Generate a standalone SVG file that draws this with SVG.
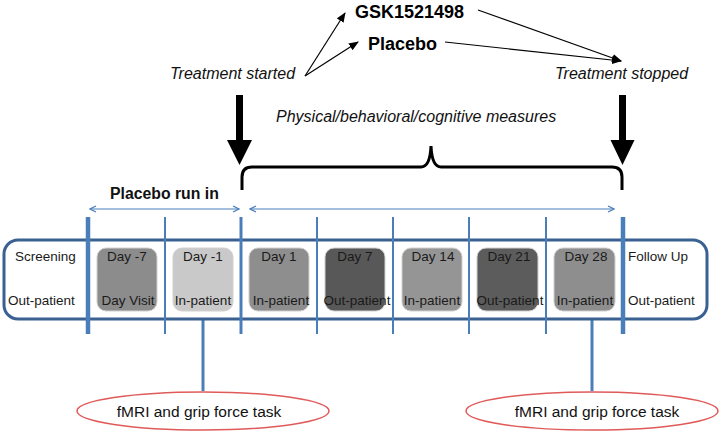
<svg xmlns="http://www.w3.org/2000/svg" width="722" height="435" viewBox="0 0 722 435">
<style>
.lbl{font-family:"Liberation Sans",Arial,sans-serif;font-size:13.5px;fill:#1a1a1a}
.it{font-family:"Liberation Sans",Arial,sans-serif;font-size:16px;font-style:italic;fill:#111}
.bold{font-family:"Liberation Sans",Arial,sans-serif;font-size:18px;font-weight:bold;fill:#000}
.box{stroke:#d0d0d0;stroke-width:1}
.blue{stroke:#4a7ebb;fill:none}
.ell{fill:#fff;stroke:#e05a5a;stroke-width:1.5}
.task{font-family:"Liberation Sans",Arial,sans-serif;font-size:15.5px;fill:#111}
</style>
<defs>
<marker id="ah" markerWidth="10" markerHeight="8" refX="9" refY="4" orient="auto" markerUnits="userSpaceOnUse"><path d="M0,0 L10,4 L0,8 Z" fill="#000"/></marker>
<marker id="bh" markerWidth="8" markerHeight="8" refX="7" refY="4" orient="auto-start-reverse" markerUnits="userSpaceOnUse"><path d="M1,1 L7,4 L1,7" fill="none" stroke="#4a7ebb" stroke-width="1.3"/></marker>
</defs>

<g id="top-labels">
<text class="bold" x="355" y="18">GSK1521498</text>
<text class="bold" x="368" y="50">Placebo</text>
<text class="it" x="170" y="79">Treatment started</text>
<text class="it" x="555" y="79">Treatment stopped</text>
<text class="it" x="276" y="122">Physical/behavioral/cognitive measures</text>
<text x="110" y="199" font-family="Liberation Sans, Arial, sans-serif" font-size="15.8" font-weight="bold" fill="#111">Placebo run in</text>
</g>

<g id="connectors">
<line x1="305" y1="76" x2="345" y2="13" stroke="#000" stroke-width="1.2" marker-end="url(#ah)"/>
<line x1="305" y1="76" x2="358" y2="42" stroke="#000" stroke-width="1.2" marker-end="url(#ah)"/>
<line x1="478" y1="10" x2="621" y2="61" stroke="#000" stroke-width="1.2" marker-end="url(#ah)"/>
<line x1="445" y1="42" x2="621" y2="61" stroke="#000" stroke-width="1.2" marker-end="url(#ah)"/>
<polygon points="236,95 243,95 243,140 252,140 239.5,165 227,140 236,140" fill="#000"/>
<polygon points="619,95 626,95 626,140 634.5,140 622.5,165 610.5,140 619,140" fill="#000"/>
<path d="M242,190 L242,177 Q242,167 252,167 L421,167 Q430,167 431,146 Q432,167 441,167 L612,167 Q622,167 622,177 L622,190" fill="none" stroke="#000" stroke-width="3"/>
<line class="blue" x1="90" y1="209" x2="239" y2="209" stroke-width="1.2" marker-start="url(#bh)" marker-end="url(#bh)"/>
<line class="blue" x1="250" y1="209" x2="614" y2="209" stroke-width="1.2" marker-start="url(#bh)" marker-end="url(#bh)"/>
<line class="blue" x1="203" y1="319" x2="203" y2="391" stroke-width="3"/>
<line class="blue" x1="592" y1="319" x2="592" y2="391" stroke-width="3"/>
</g>

<g id="timeline">
<rect x="4" y="240" width="703" height="79" rx="14" fill="#fff" stroke="#3a6192" stroke-width="3"/>
</g>

<g id="day-7"><rect class="box" x="97" y="248" width="60" height="63" rx="9" fill="#8c8c8c"/><text class="lbl" x="127" y="261" text-anchor="middle">Day -7</text><text class="lbl" x="128" y="305" text-anchor="middle">Day Visit</text></g>
<g id="day-1n"><rect class="box" x="173" y="248" width="60" height="63" rx="9" fill="#c9c9c9"/><text class="lbl" x="203" y="261" text-anchor="middle">Day -1</text><text class="lbl" x="203" y="305" text-anchor="middle">In-patient</text></g>
<g id="day1"><rect class="box" x="249" y="248" width="60" height="63" rx="9" fill="#8e8e8e"/><text class="lbl" x="279" y="261" text-anchor="middle">Day 1</text><text class="lbl" x="281" y="305" text-anchor="middle">In-patient</text></g>
<g id="day7"><rect class="box" x="325" y="248" width="60" height="63" rx="9" fill="#585858"/><text class="lbl" x="355" y="261" text-anchor="middle">Day 7</text><text class="lbl" x="357" y="305" text-anchor="middle">Out-patient</text></g>
<g id="day14"><rect class="box" x="402" y="248" width="60" height="63" rx="9" fill="#959595"/><text class="lbl" x="433" y="261" text-anchor="middle">Day 14</text><text class="lbl" x="432" y="305" text-anchor="middle">In-patient</text></g>
<g id="day21"><rect class="box" x="477" y="248" width="61" height="63" rx="9" fill="#5c5c5c"/><text class="lbl" x="509" y="261" text-anchor="middle">Day 21</text><text class="lbl" x="510" y="305" text-anchor="middle">Out-patient</text></g>
<g id="day28"><rect class="box" x="554" y="248" width="61" height="63" rx="9" fill="#8e8e8e"/><text class="lbl" x="586" y="261" text-anchor="middle">Day 28</text><text class="lbl" x="585" y="305" text-anchor="middle">In-patient</text></g>
<g id="screening"><text class="lbl" x="15" y="261">Screening</text><text class="lbl" x="8" y="305">Out-patient</text></g>
<g id="followup"><text class="lbl" x="628" y="261">Follow Up</text><text class="lbl" x="628" y="305">Out-patient</text></g>

<g id="dividers">
<line class="blue" x1="88" y1="217" x2="88" y2="334" stroke-width="4.5"/>
<line class="blue" x1="165" y1="217" x2="165" y2="334" stroke-width="2"/>
<line class="blue" x1="241" y1="217" x2="241" y2="334" stroke-width="3"/>
<line class="blue" x1="317" y1="217" x2="317" y2="334" stroke-width="2"/>
<line class="blue" x1="393" y1="217" x2="393" y2="334" stroke-width="2"/>
<line class="blue" x1="469" y1="217" x2="469" y2="334" stroke-width="2"/>
<line class="blue" x1="546" y1="217" x2="546" y2="334" stroke-width="2"/>
<line class="blue" x1="623" y1="217" x2="623" y2="334" stroke-width="4.5"/>
</g>

<g id="fmri-1"><ellipse class="ell" cx="203" cy="411" rx="126" ry="19"/><text class="task" x="199" y="417" text-anchor="middle">fMRI and grip force task</text></g>
<g id="fmri-2"><ellipse class="ell" cx="592" cy="411" rx="126" ry="19"/><text class="task" x="597" y="417" text-anchor="middle">fMRI and grip force task</text></g>
</svg>
